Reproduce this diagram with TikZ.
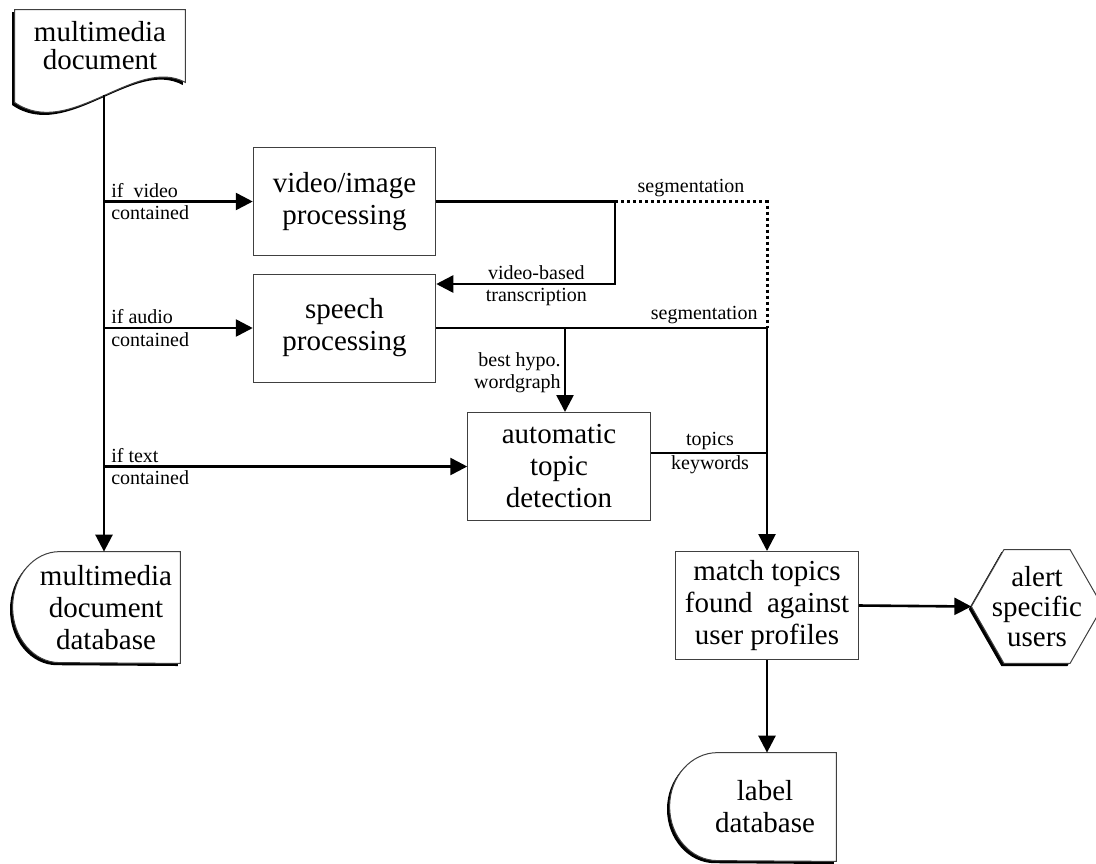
\documentclass[tikz,border=0pt]{standalone}
\usepackage{fontspec}
\setmainfont{Liberation Serif}
\usetikzlibrary{arrows.meta,shadows,calc}
\pgfdeclarelayer{background}
\pgfsetlayers{background,main}

\tikzset{
  boxtext/.style={font=\fontsize{14.5}{16}\selectfont, align=center, inner sep=0pt},
  procbox/.style={boxtext, draw=black!75, line width=0.5pt, minimum width=91.25pt, minimum height=54pt},
  shapeline/.style={draw=black!75, line width=0.5pt, fill=white,
    drop shadow={shadow xshift=-1.3pt, shadow yshift=-1.3pt, opacity=1, fill=black}},
  flowline/.style={line width=1.3pt, -{Triangle[length=8.5pt,width=8.5pt]}},
  plainline/.style={line width=1.3pt},
  segline/.style={line width=1.5pt, dash pattern=on 1.5pt off 1.5pt},
  lbl/.style={font=\fontsize{10}{11}\selectfont, inner sep=1.5pt},
}

\begin{document}
\begin{tikzpicture}[x=0.5pt, y=-0.5pt]
\useasboundingbox (0,0) rectangle (1096,863);

% the nodes
\node[boxtext, font=\fontsize{14.5}{14}\selectfont, minimum width=85pt, minimum height=36pt] (doc) at (100,46) {multimedia\\document};
\node[boxtext, minimum width=74pt, minimum height=55.5pt] (mmdb) at (106,607.5) {multimedia\\document\\database};
\node[procbox] (video) at (344.5,201.5) {video/image\\processing};
\node[procbox] (speech) at (344.5,328) {speech\\processing};
\node[procbox] (topic) at (559,466.5) {automatic\\topic\\detection};
\node[procbox] (match) at (767,605.5) {match topics\\found~ against\\user profiles};
\node[boxtext, font=\fontsize{14.5}{15}\selectfont, minimum width=65.25pt, minimum height=56.5pt] (alert) at (1037,606.5) {alert\\specific\\users};
\node[boxtext, minimum width=71pt, minimum height=54pt] (labeldb) at (765,807) {label\\database};

% outlines behind the texts
\begin{pgfonlayer}{background}
\draw[shapeline] (doc.north west) -- (doc.north east) -- (doc.south east)
  .. controls ($(doc.south east)+(-50,-27)$) and ($(doc.south west)+(55,58)$) .. ($(doc.south west)+(0,20)$) -- cycle;
\draw[shapeline] (mmdb.north east) -- ($(mmdb.north west)+(28,0)$)
  arc[start angle=90, end angle=270, x radius=23.5pt, y radius=27.75pt] -- (mmdb.south east) -- cycle;
\draw[shapeline] (labeldb.north east) -- ($(labeldb.north west)+(24,0)$)
  arc[start angle=90, end angle=270, x radius=24pt, y radius=27pt] -- (labeldb.south east) -- cycle;
\draw[shapeline] (alert.west) -- ($(alert.north west)+(32.6,0)$) -- ($(alert.north east)+(-32.6,0)$)
  -- (alert.east) -- ($(alert.south east)+(-32.6,0)$) -- ($(alert.south west)+(32.6,0)$) -- cycle;
\end{pgfonlayer}

% junction points
\coordinate (trunk) at (104,95);
\coordinate (vsplit) at (615,201.5);
\coordinate (vbt) at (615,284);
\coordinate (segjoin) at (767,328);
\coordinate (hypo) at (565,328);
\coordinate (topicout) at ([yshift=6.75pt]topic.east);

% the connectors
\draw[flowline] (trunk) -- (trunk |- mmdb.north);
\draw[flowline] (trunk |- video.west) -- node[lbl, above right, pos=0, xshift=1.5pt]{if~ video}
  node[lbl, below right, pos=0, xshift=1.5pt]{contained} (video.west);
\draw[flowline] (trunk |- speech.west) -- node[lbl, above right, pos=0, xshift=1.5pt]{if audio}
  node[lbl, below right, pos=0, xshift=1.5pt]{contained} (speech.west);
\draw[flowline] (trunk |- topic.west) -- node[lbl, above right, pos=0, xshift=1.5pt]{if text}
  node[lbl, below right, pos=0, xshift=1.5pt]{contained} (topic.west);

\draw[plainline] (video.east) -- (vsplit);
\draw[flowline] (vsplit) -- (vbt) -- node[lbl, above, pos=0.44]{video-based}
  node[lbl, below, pos=0.44]{transcription} (vbt -| speech.east);
\draw[segline] (vsplit) -- node[lbl, above]{segmentation} (vsplit -| segjoin) -- (segjoin);

\draw[plainline] (speech.east) -- node[lbl, above, pos=0.81]{segmentation} (segjoin);
\draw[flowline] (hypo) -- node[lbl, left, align=right, pos=0.53]{best hypo.\\wordgraph} (hypo |- topic.north);
\draw[plainline] (topicout) -- node[lbl, above, pos=0.51, inner sep=0.8pt]{topics}
  node[lbl, below, pos=0.51, inner sep=0.8pt]{keywords} (topicout -| segjoin);
\draw[flowline] (segjoin) -- (match.north);

\draw[flowline] (match.east) -- (alert.west);
\draw[flowline] (match.south) -- (match.south |- labeldb.north);
\end{tikzpicture}
\end{document}
